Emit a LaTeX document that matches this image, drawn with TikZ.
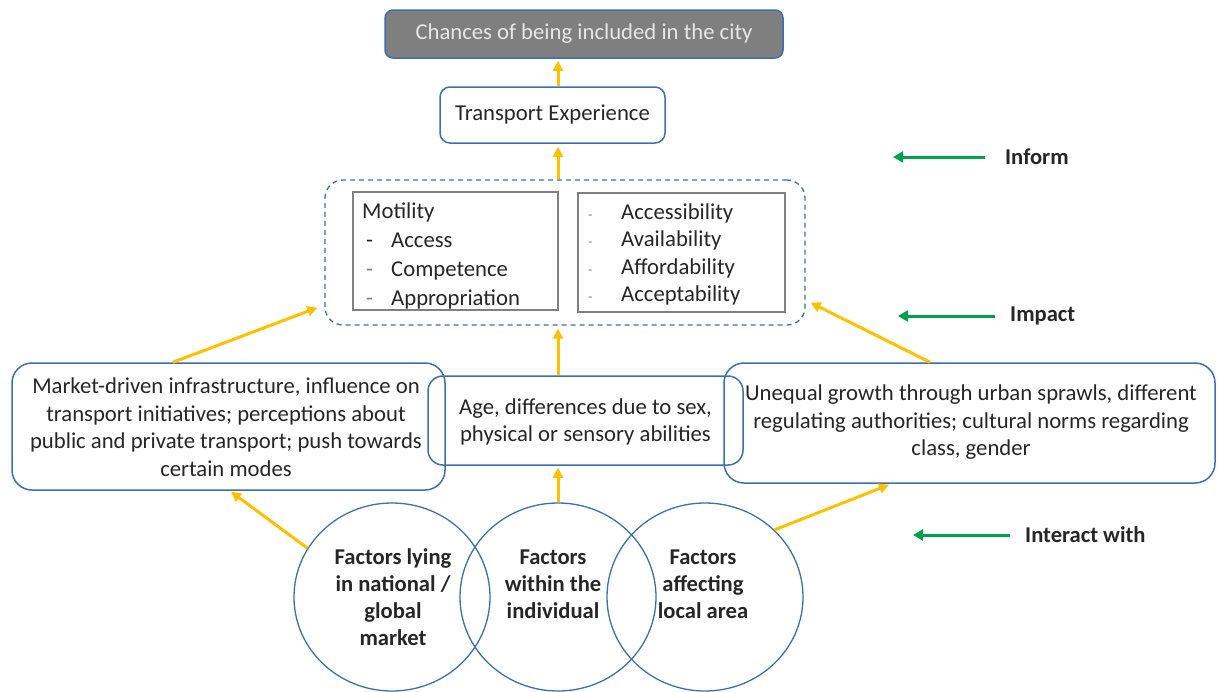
\documentclass[tikz,border=0pt]{standalone}
\usepackage{fontspec}
\setmainfont{Carlito}
\usetikzlibrary{arrows.meta,shapes.geometric}

\definecolor{boxblue}{HTML}{3A70B2}
\definecolor{flowyellow}{HTML}{FFC000}
\definecolor{legendgreen}{HTML}{00A24A}
\definecolor{topgray}{HTML}{7F7F7F}
\definecolor{toptext}{HTML}{E6E6E6}
\definecolor{listgray}{HTML}{808080}
\definecolor{bodytext}{HTML}{262626}

\tikzset{
  txt/.style={font=\fontsize{22.7}{27.5}\selectfont, text=bodytext, inner sep=0pt},
  boldtxt/.style={txt, font=\fontsize{22.6}{27}\selectfont\bfseries},
  bluebox/.style={draw=boxblue, line width=1.5pt, rounded corners=#1, inner sep=0pt},
  graybox/.style={draw=listgray, line width=1.2pt, inner sep=0pt},
  factor/.style={draw=boxblue, line width=1.3pt, ellipse, inner sep=0pt,
                 minimum width=196pt, minimum height=188pt},
  flow/.style={draw=flowyellow, line width=3pt,
               -{Triangle[length=10pt,width=10pt]}},
  legend/.style={draw=legendgreen, line width=3pt,
                 -{Triangle[length=10pt,width=11pt]}},
}

\begin{document}
\begin{tikzpicture}[x=1pt,y=-1pt]
\useasboundingbox (0,0) rectangle (1217,691);

% outcome and experience
\node[bluebox=8pt, fill=topgray, minimum width=398pt, minimum height=48pt,
      txt, text=toptext] (top) at (584,34) {Chances of being included in the city};
\node[bluebox=10pt, minimum width=225pt, minimum height=56pt, txt]
      (te) at (552.5,115) {Transport Experience};

% motility and access group
\node[draw=boxblue, line width=1.3pt, dash pattern=on 5pt off 4pt,
      rounded corners=18pt, minimum width=480pt, minimum height=145pt]
      (dash) at (565,252.5) {};
\node[graybox, minimum width=205pt, minimum height=118pt] (mot) at (455.5,251) {};
\node[graybox, minimum width=207pt, minimum height=119pt] (acc) at (681.5,252.5) {};

\node[txt, anchor=base west] (m0) at (362,218) {Motility};
\node[txt, anchor=base west] (m1d) at (366,247) {-};
\node[txt, anchor=base west] (m1) at (391,247) {Access};
\node[txt, anchor=base west, text=listgray] (m2d) at (366,276) {-};
\node[txt, anchor=base west] (m2) at (391,276) {Competence};
\node[txt, anchor=base west, text=listgray] (m3d) at (366,305) {-};
\node[txt, anchor=base west] (m3) at (391,305) {Appropriation};

\node[txt, anchor=base west, text=listgray, font=\fontsize{14}{16}\selectfont] (a1d) at (588,219) {-};
\node[txt, anchor=base west] (a1) at (621,219) {Accessibility};
\node[txt, anchor=base west, text=listgray, font=\fontsize{14}{16}\selectfont] (a2d) at (588,246) {-};
\node[txt, anchor=base west] (a2) at (621,246) {Availability};
\node[txt, anchor=base west, text=listgray, font=\fontsize{14}{16}\selectfont] (a3d) at (588,274) {-};
\node[txt, anchor=base west] (a3) at (621,274) {Affordability};
\node[txt, anchor=base west, text=listgray, font=\fontsize{14}{16}\selectfont] (a4d) at (588,301) {-};
\node[txt, anchor=base west] (a4) at (621,301) {Acceptability};

% factor descriptions
\node[bluebox=20pt, minimum width=433pt, minimum height=127pt] (lb) at (228.5,426.5) {};
\node[txt, align=center] (lbt) at (226,427)
  {Market-driven infrastructure, influence on\\ transport initiatives; perceptions about\\
   public and private transport; push towards\\ certain modes};
\node[bluebox=20pt, minimum width=491pt, minimum height=120pt] (rb) at (969.5,423) {};
\node[txt, align=center] (rbt) at (971,422.5)
  {Unequal growth through urban sprawls, different\\ regulating authorities; cultural norms regarding\\
   class, gender};
\node[bluebox=15pt, minimum width=315pt, minimum height=89pt] (mb) at (585.5,420.5) {};
\node[txt, align=center] (mbt) at (585.5,422)
  {Age, differences due to sex,\\ physical or sensory abilities};

% factor circles
\node[factor] (c1) at (392,597) {};
\node[factor] (c2) at (558,597) {};
\node[factor] (c3) at (705,597) {};
\node[boldtxt, align=center] (c1t) at (393,597.5) {Factors lying\\ in national /\\ global\\ market};
\node[boldtxt, align=center] (c2t) at (553,584) {Factors\\ within the\\ individual};
\node[boldtxt, align=center] (c3t) at (703,584) {Factors\\ affecting\\ local area};

% upward flows
\draw[flow] ([xshift=5.5pt]te.north) -- ([xshift=5.5pt,yshift=-2pt]te.north |- top.south);
\draw[flow] ([xshift=-7pt]dash.north) -- ([xshift=-7pt,yshift=-3pt]dash.north |- te.south);
\draw[flow] ([xshift=-55.5pt]lb.north) -- ([xshift=-7pt,yshift=18pt]dash.south west);
\draw[flow] ([xshift=-27.5pt]mb.north) -- ([xshift=-7pt,yshift=-3pt]dash.south);
\draw[flow] ([xshift=-39.5pt]rb.north) -- ([xshift=5pt,yshift=23pt]dash.south east);
\draw[flow] (c1.150) -- ([xshift=2.5pt,yshift=-1pt]lb.south);
\draw[flow] (c2.north) -- ([xshift=-27.5pt,yshift=-2pt]mb.south);
\draw[flow] (c3.44) -- ([xshift=-80.5pt,yshift=-1pt]rb.south);

% legend
\node[boldtxt, anchor=west] (inf) at (1005,157) {Inform};
\node[boldtxt, anchor=west] (imp) at (1010,316) {Impact};
\node[boldtxt, anchor=west] (int) at (1025,535) {Interact with};
\coordinate (infEnd) at (893,157);
\coordinate (impEnd) at (898,316);
\coordinate (intEnd) at (913,535);
\draw[legend] ([xshift=-20pt]inf.west) -- (infEnd);
\draw[legend] ([xshift=-15pt]imp.west) -- (impEnd);
\draw[legend] ([xshift=-15pt]int.west) -- (intEnd);
\end{tikzpicture}
\end{document}
